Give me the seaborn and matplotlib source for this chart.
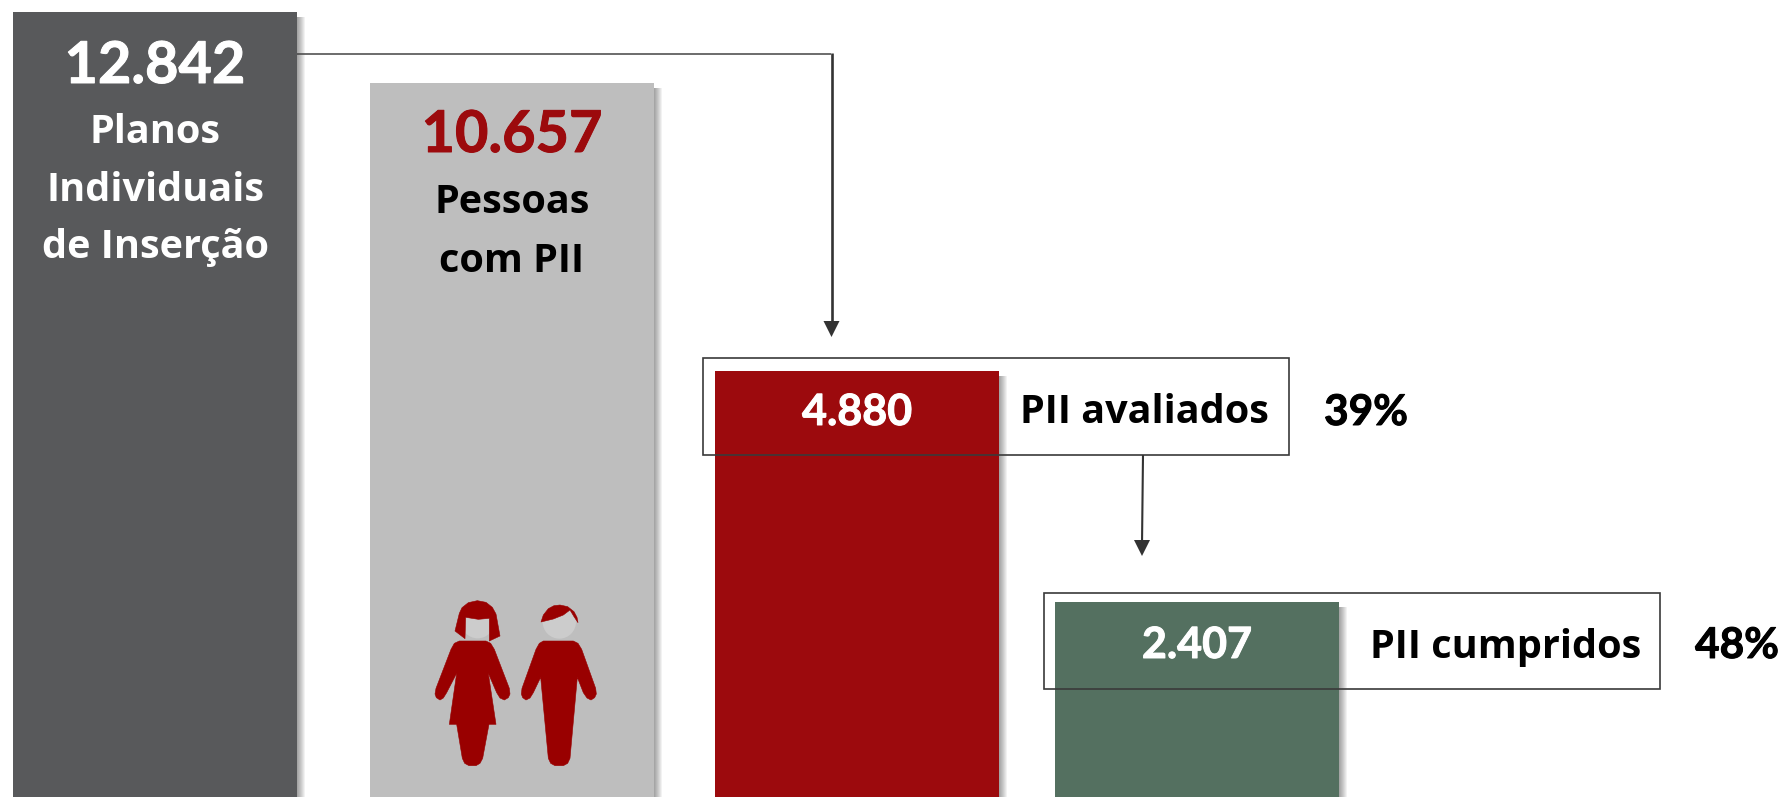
import pandas as pd
import seaborn as sns
import matplotlib
matplotlib.use('Agg')
import matplotlib.pyplot as plt
import matplotlib.patheffects as pe
from matplotlib.patches import Rectangle, Polygon, Circle

# Bars are not to scale in the original, so heights are read from the picture
categories = ['Planos', 'Pessoas', 'Avaliados', 'Cumpridos']
bar_heights = [785, 714, 426, 195]
value_labels = ['12.842', '10.657', '4.880', '2.407']
bar_colors = ['#58595B', '#BEBEBE', '#9C0A0D', '#547060']
side_labels = ['PII avaliados', 'PII cumpridos']
pct_labels = ['39%', '48%']

W, H = 1785, 797
bar_left = [13, 370, 715, 1055]
bar_width = 284
LINE = '#333333'
PEOPLE = '#990000'
FACE = '#CCCCCC'

sns.set_theme(style='white')
plt.rcParams['font.family'] = ['Open Sans', 'DejaVu Sans']
plt.rcParams['font.weight'] = 'bold'

df = pd.DataFrame({'categoria': categories, 'altura': bar_heights})

fig = plt.figure(figsize=(W / 100, H / 100), dpi=100)
ax = fig.add_axes([0, 0, 1, 1])

sns.barplot(data=df, x='categoria', y='altura', hue='categoria', palette=bar_colors,
            order=categories, hue_order=categories, dodge=False, legend=False,
            saturation=1, linewidth=0, ax=ax, zorder=3)

# Move the bars to where the slide has them
for patch, left in zip(ax.patches, bar_left):
    patch.set_x(left)
    patch.set_width(bar_width)
    # soft shadow on the right edge
    top = patch.get_height()
    for i in range(1, 9):
        ax.add_patch(Rectangle((left + bar_width, 0), i, top - 5, color='black',
                               alpha=0.05, lw=0, zorder=2))

ax.set_xlim(0, W)
ax.set_ylim(0, H)
ax.axis('off')


def py(y):
    # pixel row (from the top) to axis value
    return H - y


def label(x, baseline, s, size, color):
    ax.text(x, py(baseline), s, ha='center', va='baseline', fontsize=size,
            color=color, fontweight='bold', zorder=6)


def number(x, baseline, s, size, color):
    # digits sit closer to the original in Lato, thickened a little
    t = ax.text(x, py(baseline), s, ha='center', va='baseline', fontsize=size,
                color=color, fontweight='bold', family=['Lato', 'DejaVu Sans'], zorder=6)
    t.set_path_effects([pe.withStroke(linewidth=0.7, foreground=color)])


# Texts on the first two bars
number(155, 83, value_labels[0], 41.5, 'white')
label(155, 143, 'Planos', 28.5, 'white')
label(155, 201, 'Individuais', 28.5, 'white')
label(155, 258, 'de Inserção', 28.5, 'white')

number(512, 152, value_labels[1], 41.5, '#9C0A0D')
label(512, 213, 'Pessoas', 28.5, 'black')
label(512, 272, 'com PII', 28.5, 'black')

# Boxes with labels
number(857, 425, value_labels[2], 31, 'white')
label(1144, 423, side_labels[0], 28.5, 'black')
number(1366, 425, pct_labels[0], 30.5, 'black')
ax.add_patch(Rectangle((703, py(455)), 586, 97, fill=False, ec='#3A3A3A', lw=1.2, zorder=5))

number(1197, 658, value_labels[3], 31, 'white')
label(1506, 658, side_labels[1], 28.5, 'black')
number(1737, 658, pct_labels[1], 30.5, 'black')
ax.add_patch(Rectangle((1044, py(689)), 616, 96, fill=False, ec='#3A3A3A', lw=1.2, zorder=5))


# Connector lines
def arrow_head(x, tip):
    ax.add_patch(Polygon([(x - 8, py(tip - 16)), (x + 8, py(tip - 16)), (x, py(tip))],
                         closed=True, color=LINE, lw=0, zorder=5))


ax.plot([297, 831], [py(53.5), py(53.5)], color='#444444', lw=1.1, zorder=5, solid_capstyle='butt')
ax.plot([831.5, 831.5], [py(53), py(325)], color=LINE, lw=1.9, zorder=5, solid_capstyle='butt')
arrow_head(831.5, 337)
ax.plot([1143, 1142], [py(455), py(545)], color=LINE, lw=1.5, zorder=5, solid_capstyle='butt')
arrow_head(1142, 556)


# Pictogram of the two people, traced in crop coordinates (3x, from 400,560)
def pic(points):
    return [(400 + x / 3, py(560 + y / 3)) for x, y in points]


def shape(points, color=PEOPLE, z=5):
    ax.add_patch(Polygon(pic(points), closed=True, fc=color, ec=color, lw=0.4, joinstyle='round', zorder=z))


woman_head = Circle(pic([(233, 185)])[0], 50 / 3, fc=FACE, lw=0, zorder=4)
ax.add_patch(woman_head)
man_head = Circle(pic([(478, 186)])[0], 50 / 3, fc=FACE, lw=0, zorder=4)
ax.add_patch(man_head)

woman_body = [(178, 243), (258, 243), (272, 250), (283, 268), (328, 385), (330, 402), (325, 413), (313, 420),
              (300, 414), (290, 398), (265, 340), (288, 493), (267, 493), (248, 595), (240, 610), (228, 617),
              (207, 617), (194, 610), (187, 595), (170, 493), (148, 493), (170, 340), (140, 398), (130, 414),
              (120, 420), (109, 413), (105, 402), (108, 385), (153, 268), (163, 250)]
woman_hair = [(165, 213), (178, 160), (186, 143), (205, 128), (232, 122), (258, 127), (277, 142), (288, 162),
              (300, 228), (268, 243), (268, 175), (235, 178), (197, 172), (195, 236)]
man_body = [(430, 243), (520, 243), (534, 250), (545, 268), (587, 385), (589, 402), (584, 413), (573, 420),
            (561, 414), (550, 398), (532, 352), (510, 595), (503, 610), (490, 617), (465, 617), (452, 610),
            (445, 595), (422, 352), (400, 398), (390, 414), (378, 420), (368, 413), (364, 402), (366, 385),
            (408, 268), (418, 250)]
man_hair = [(423, 186), (430, 165), (445, 146), (462, 137), (480, 135), (503, 140), (522, 155), (531, 172),
            (534, 188), (522, 170), (510, 150), (490, 165), (460, 177)]
for part in [woman_body, woman_hair, man_body, man_hair]:
    shape(part)

fig.savefig('out.png', dpi=100)
